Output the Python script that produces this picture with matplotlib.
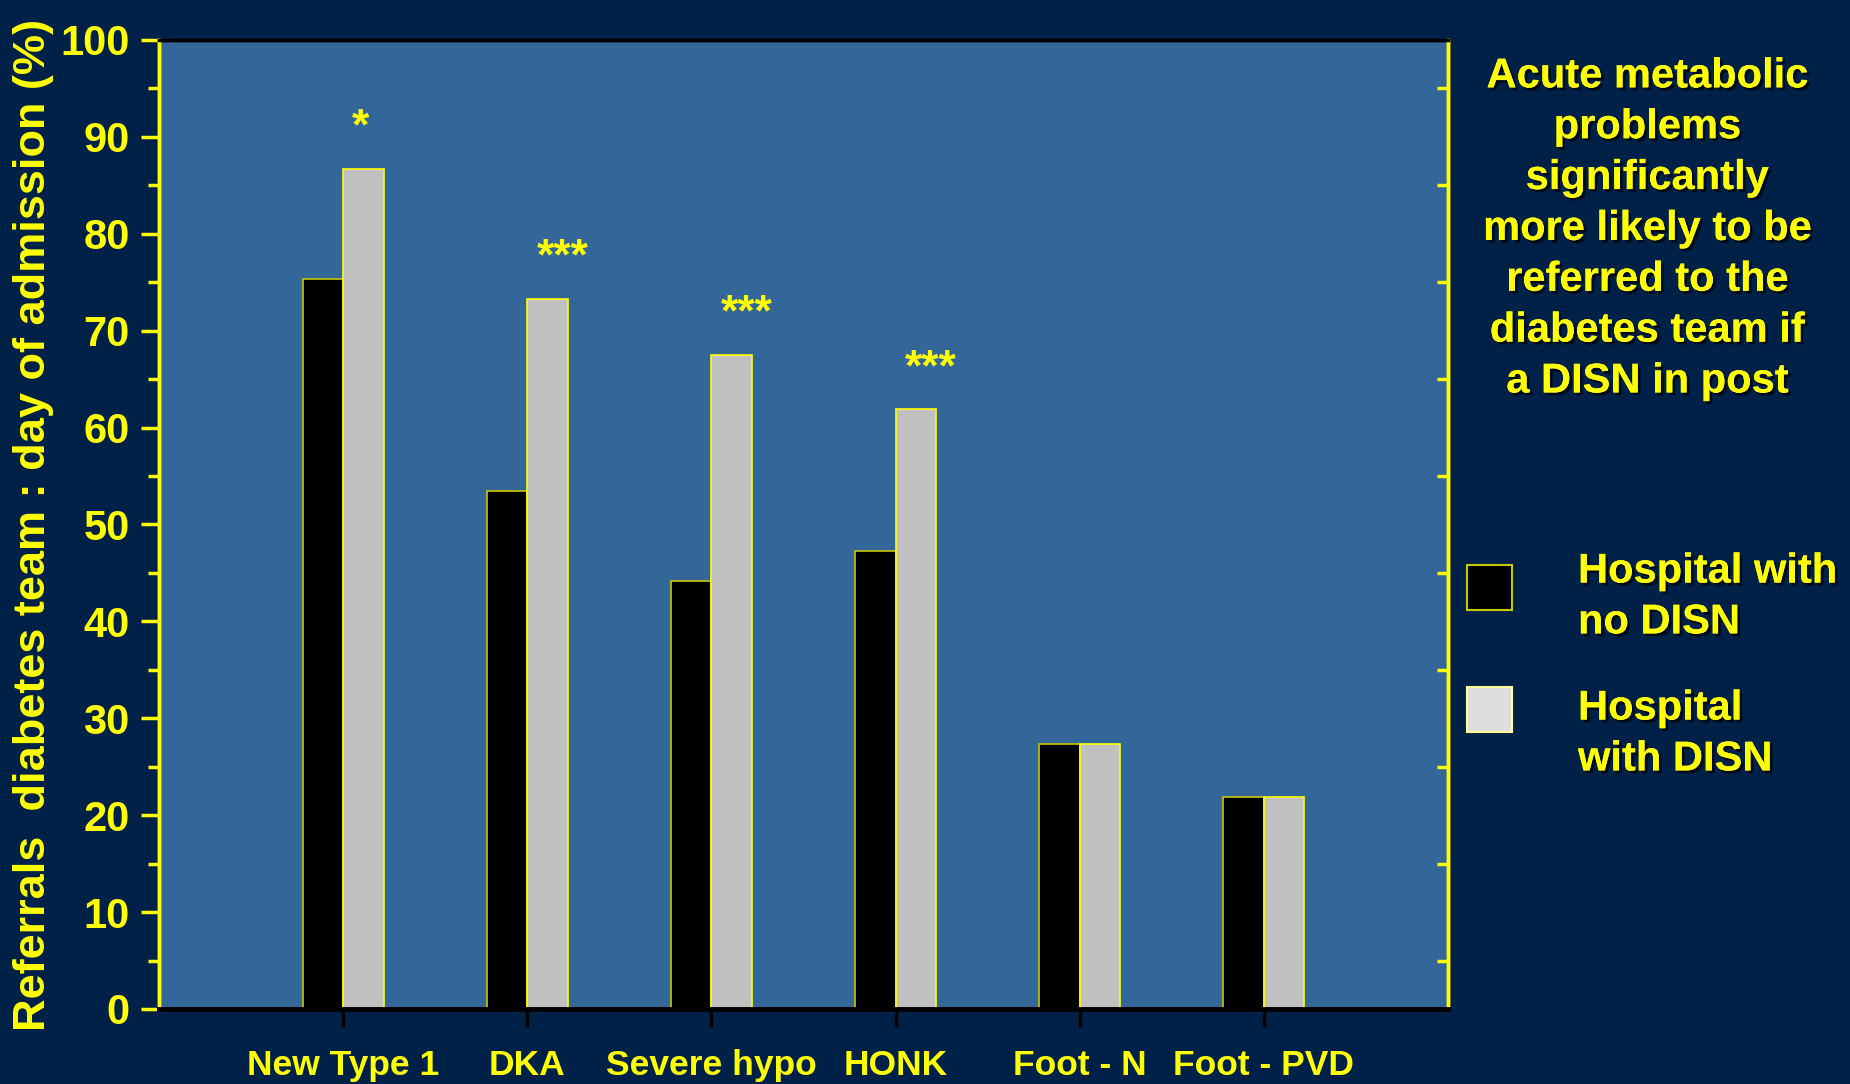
import numpy as np
import matplotlib.pyplot as plt
import matplotlib.patheffects as pe
from matplotlib.patches import Rectangle
from matplotlib.ticker import MultipleLocator, FixedLocator

# referral rates on day of admission (%)
categories = ['New Type 1', 'DKA', 'Severe hypo', 'HONK', 'Foot - N', 'Foot - PVD']
no_disn = [75.3, 53.5, 44.2, 47.3, 27.3, 21.9]
with_disn = [86.7, 73.3, 67.5, 61.9, 27.3, 21.9]
signif = ['*', '***', '***', '***', '', '']

series_names = ['Hospital with\nno DISN', 'Hospital\nwith DISN']
note = ('Acute metabolic\nproblems\nsignificantly\nmore likely to be\n'
        'referred to the\ndiabetes team if\na DISN in post')
ylabel = 'Referrals  diabetes team : day of admission (%)'

bg = '#002147'
face = '#336699'
yellow = '#FFFF00'

bold = ['Liberation Sans', 'DejaVu Sans']
shadow = [pe.withSimplePatchShadow(offset=(2, -2), shadow_rgbFace='black', alpha=0.7), pe.Normal()]

fig = plt.figure(figsize=(18.5, 10.84), dpi=100, facecolor=bg)
ax = fig.add_axes([0.0859, 0.0692, 0.6968, 0.8939])
ax.set_facecolor(face)

x = np.arange(len(categories))
w = 0.22
ax.bar(x - w / 2, no_disn, w, color='black', edgecolor='#C8C800', linewidth=1.2, zorder=3)
ax.bar(x + w / 2, with_disn, w, color='#C0C0C0', edgecolor=yellow, linewidth=1.2, zorder=3)

for xi, v, s in zip(x, with_disn, signif):
    if s:
        ax.text(xi + 0.05, v + 4.2, s, ha='left', va='center', color=yellow,
                fontsize=32, fontweight='bold', family=bold)

ax.set_xlim(-1, 6)
ax.set_ylim(0, 100)

# left axis: yellow labels and ticks
ax.yaxis.set_major_locator(MultipleLocator(10))
ax.yaxis.set_minor_locator(MultipleLocator(5))
ax.tick_params(axis='y', which='major', direction='out', length=13, width=2.5,
               color=yellow, labelcolor=yellow, labelsize=30, pad=8)
ax.tick_params(axis='y', which='minor', direction='out', length=8, width=2.5, color=yellow)
for lab in ax.get_yticklabels():
    lab.set_fontweight('bold')
    lab.set_family(bold)

ax.set_xticks(x)
ax.set_xticklabels(categories, fontsize=25.5, fontweight='bold', color=yellow, family=bold)
ax.tick_params(axis='x', direction='out', length=13, width=2.5, color='black', pad=16)

ax.set_ylabel(ylabel, fontsize=32.5, fontweight='bold', color=yellow, family=bold)
ax.yaxis.set_label_coords(-0.081, 0.5)

# right spine carries inward ticks at the half-decades
rax = ax.twinx()
rax.set_ylim(0, 100)
rax.yaxis.set_major_locator(FixedLocator(np.arange(5, 100, 10)))
rax.tick_params(axis='y', direction='in', length=8, width=2.5, color=yellow, labelright=False)

for a in (ax, rax):
    a.spines['left'].set_color(yellow)
    a.spines['left'].set_linewidth(2.5)
    a.spines['right'].set_color(yellow)
    a.spines['right'].set_linewidth(2.5)
    a.spines['top'].set_color('black')
    a.spines['top'].set_linewidth(2.5)
    a.spines['bottom'].set_color('black')
    a.spines['bottom'].set_linewidth(3.5)

fig.text(0.8905, 0.948, note, ha='center', va='top', color=yellow, fontsize=30,
         fontweight='bold', family=bold, linespacing=1.35, path_effects=shadow)

# legend boxes and labels
fig.patches.append(Rectangle((0.7930, 1 - 610 / 1084), 45 / 1850, 45 / 1084,
                             transform=fig.transFigure, facecolor='black',
                             edgecolor='#C8C800', linewidth=1.5))
fig.patches.append(Rectangle((0.7930, 1 - 732 / 1084), 45 / 1850, 45 / 1084,
                             transform=fig.transFigure, facecolor='#DDDDDD',
                             edgecolor='#FFFF99', linewidth=1.5))
for name, yc in zip(series_names, [597, 734]):
    fig.text(1578 / 1850, 1 - yc / 1084, name, ha='left', va='center', color=yellow,
             fontsize=30, fontweight='bold', family=bold, linespacing=1.35,
             path_effects=shadow)

fig.savefig('out.png', dpi=100, facecolor=bg)
